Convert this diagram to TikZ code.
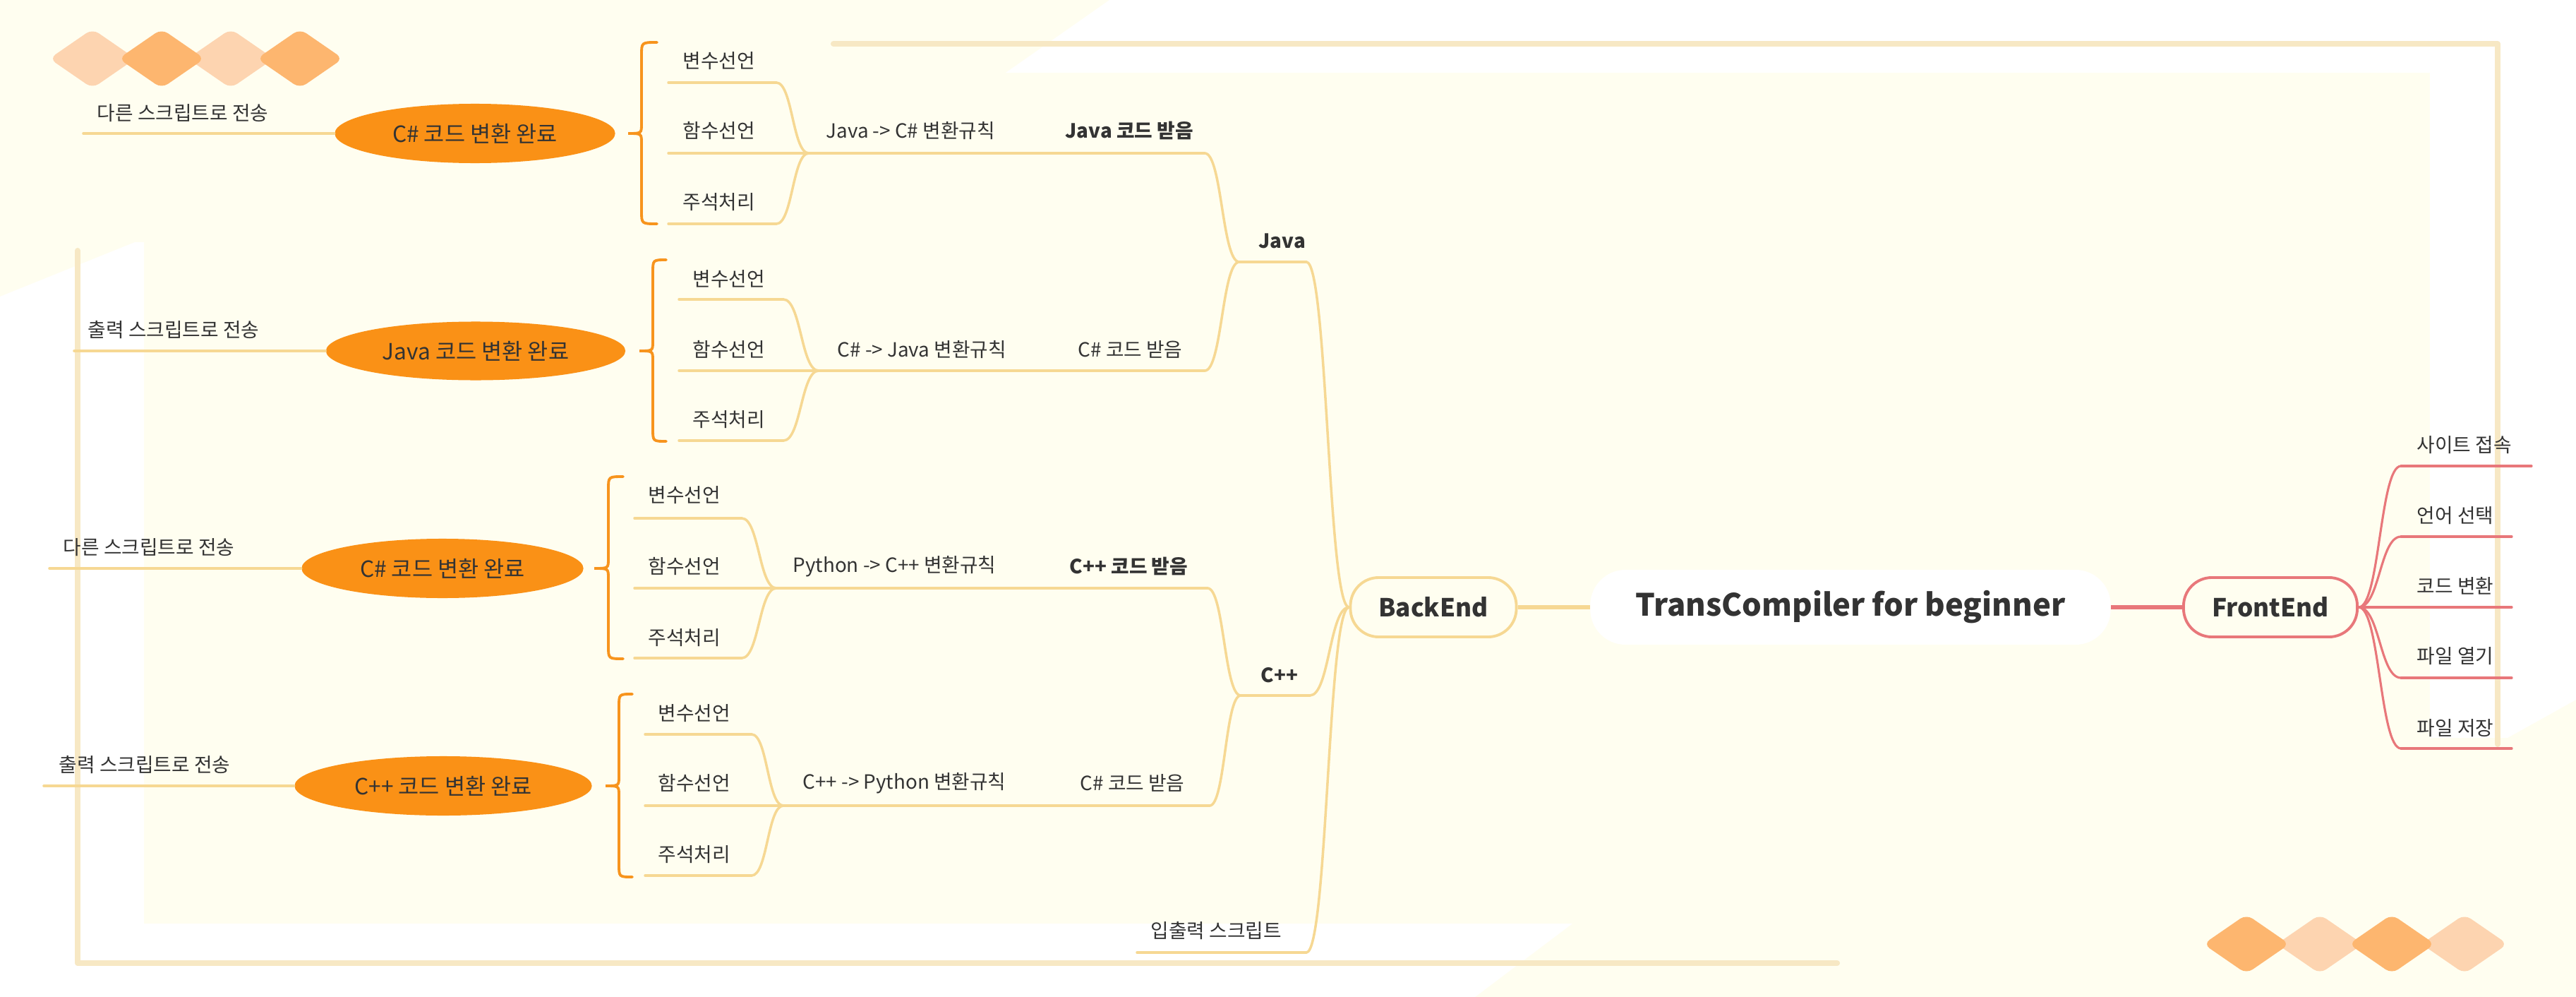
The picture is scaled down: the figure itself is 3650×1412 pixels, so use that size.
\documentclass[tikz,border=0pt]{standalone}
\usepackage{fontspec}
\setmainfont{Noto Sans CJK KR}
\usetikzlibrary{shapes.geometric,calc}
\definecolor{bgc}{HTML}{FFFEF0}
\definecolor{gold}{HTML}{F6D893}
\definecolor{framec}{HTML}{F7E8C4}
\definecolor{orng}{HTML}{FA9116}
\definecolor{bracec}{HTML}{F7941D}
\definecolor{pinkc}{HTML}{E8777A}
\definecolor{txtc}{HTML}{333333}
\definecolor{dlight}{HTML}{FDD4B0}
\definecolor{ddark}{HTML}{FDB66F}
\newcommand\sline[3]{%
  \path ($(#2)!0.5!(#3)$) coordinate (sm);
  \draw[#1] (#2) .. controls (#2 -| sm) and (#3 -| sm) .. (#3);}
\newcommand\dia[3]{\fill[#1, rounded corners=3pt] (#2-61,#3) -- (#2,#3-42) -- (#2+61,#3) -- (#2,#3+42) -- cycle;}
\tikzset{
  txt/.style={font=\fontsize{7.9}{9}\selectfont, text=txtc, inner sep=0pt, anchor=west},
  btxt/.style={txt, font=\fontsize{7.9}{9}\selectfont\bfseries},
  conn/.style={gold, line width=1pt, line cap=round},
  mainconn/.style={gold, line width=1.7pt},
  pconn/.style={pinkc, line width=0.9pt, line cap=round},
  framel/.style={framec, line width=2.3pt, line cap=round, line join=round},
  bracel/.style={bracec, line width=1.1pt, line cap=round},
  done/.style={ellipse, fill=orng, inner sep=0pt, text=txtc, font=\fontsize{9}{11}\selectfont},
  endbox/.style={draw, line width=1.1pt, rounded corners=0.4cm, fill=bgc, text=txtc, inner sep=0pt,
     minimum height=0.84cm, font=\fontsize{10}{12}\selectfont\bfseries},
  titlebox/.style={fill=white, rounded corners=0.5cm, text=txtc, inner sep=0pt, minimum width=7.37cm,
     minimum height=1.06cm, font=\fontsize{12.4}{15}\selectfont\bfseries}
}
\begin{document}
\begin{tikzpicture}[x=0.01cm,y=-0.01cm]
\useasboundingbox (0,0) rectangle (3650,1412);
% background
\fill[bgc] (0,0) rectangle (3650,1412);
\fill[white] (0,420) -- (191,343) -- (204,343) -- (204,1308) -- (2228,1308) -- (2090,1412) -- (0,1412) -- cycle;
\fill[white] (1572,0) -- (3650,0) -- (3650,991) -- (3553,1045) -- (3443,1045) -- (3443,103) -- (1425,103) -- cycle;
% frame
\draw[framel] (1181,62) -- (3539,62) -- (3539,1054);
\draw[framel] (110,355) -- (110,1364) -- (2603,1364);
% diamonds
\dia{dlight}{131}{83} \dia{dlight}{327}{83} \dia{ddark}{229}{83} \dia{ddark}{425}{83}
\dia{dlight}{3287}{1337} \dia{dlight}{3492}{1337} \dia{ddark}{3183}{1337} \dia{ddark}{3389}{1337}

% central
\node[titlebox] (title) at (2622,860) {TransCompiler for beginner};
\node[endbox, draw=gold, minimum width=2.35cm] (backend) at (2031,860) {BackEnd};
\node[endbox, draw=pinkc, minimum width=2.46cm] (frontend) at (3217,860) {FrontEnd};
\draw[mainconn] (backend.east) -- (title.west);
\draw[pinkc, line width=1.7pt] (title.east) -- (frontend.west);

% FrontEnd children
\node[txt] (f1) at (3424,630) {사이트 접속};
\node[txt] (f2) at (3424,730) {언어 선택};
\node[txt] (f3) at (3424,830) {코드 변환};
\node[txt] (f4) at (3424,929) {파일 열기};
\node[txt] (f5) at (3424,1031) {파일 저장};
\coordinate (f1a) at (3402,660); \coordinate (f1b) at (3587,660);
\coordinate (f2a) at (3402,760); \coordinate (f2b) at (3559,760);
\coordinate (f3a) at (3402,860); \coordinate (f3b) at (3559,860);
\coordinate (f4a) at (3402,960); \coordinate (f4b) at (3559,960);
\coordinate (f5a) at (3402,1060); \coordinate (f5b) at (3559,1060);
\foreach \i in {1,...,5}{
  \sline{pconn}{frontend.east}{f\i a}
  \draw[pconn] (f\i a) -- (f\i b);
}

% BackEnd branches
\node[btxt] (java) at (1783,341) {Java};
\node[btxt] (cpp) at (1786,956) {C++};
\node[txt] (io) at (1630,1318) {입출력 스크립트};
\coordinate (javaR) at (1851,371); \coordinate (javaL) at (1756,371);
\coordinate (cppR) at (1856,985); \coordinate (cppL) at (1758,985);
\coordinate (ioR) at (1851,1349); \coordinate (ioL) at (1611,1349);
\sline{conn}{backend.west}{javaR}
\sline{conn}{backend.west}{cppR}
\sline{conn}{backend.west}{ioR}
\draw[conn] (javaR) -- (javaL);
\draw[conn] (cppR) -- (cppL);
\draw[conn] (ioR) -- (ioL);

% ---------- Group 1 ----------
\node[txt] (r1) at (1170,185) {Java -> C\# 변환규칙};
\node[btxt] (c1) at (1509,185) {Java 코드 받음};
\coordinate (g1e) at (1707,217); \coordinate (g1j) at (1146,217);
\sline{conn}{g1e}{javaL}
\draw[conn] (g1e) -- (g1j);
\node[txt] (a1) at (967,86) {변수선언};
\node[txt] (b1) at (967,185) {함수선언};
\node[txt] (d1) at (967,286) {주석처리};
\coordinate (a1c) at (1100,117); \coordinate (a1s) at (947,117);
\coordinate (b1s) at (947,217);
\coordinate (d1c) at (1100,317); \coordinate (d1s) at (947,317);
\sline{conn}{g1j}{a1c} \draw[conn] (a1c) -- (a1s);
\draw[conn] (g1j) -- (b1s);
\sline{conn}{g1j}{d1c} \draw[conn] (d1c) -- (d1s);
\draw[bracel] (931,60) .. controls (909,60) .. (909,78) -- (909,175) .. controls (909,189) .. (890,189)
  .. controls (909,189) .. (909,203) -- (909,299) .. controls (909,317) .. (931,317);
\node[done, minimum width=3.97cm, minimum height=0.84cm] (e1) at (673,189) {C\# 코드 변환 완료};
\coordinate (o1) at (118,189);
\node[txt] (s1) at (137,160) {다른 스크립트로 전송};
\draw[conn] (e1.west) -- (o1);

% ---------- Group 2 ----------
\node[txt] (r2) at (1186,495) {C\# -> Java 변환규칙};
\node[txt] (c2) at (1527,495) {C\# 코드 받음};
\coordinate (g2e) at (1707,525); \coordinate (g2j) at (1160,525);
\sline{conn}{g2e}{javaL}
\draw[conn] (g2e) -- (g2j);
\node[txt] (a2) at (981,395) {변수선언};
\node[txt] (b2) at (981,495) {함수선언};
\node[txt] (d2) at (981,594) {주석처리};
\coordinate (a2c) at (1110,424); \coordinate (a2s) at (962,424);
\coordinate (b2s) at (962,525);
\coordinate (d2c) at (1110,624); \coordinate (d2s) at (962,624);
\sline{conn}{g2j}{a2c} \draw[conn] (a2c) -- (a2s);
\draw[conn] (g2j) -- (b2s);
\sline{conn}{g2j}{d2c} \draw[conn] (d2c) -- (d2s);
\draw[bracel] (944,368) .. controls (925,368) .. (925,386) -- (925,483) .. controls (925,497) .. (906,497)
  .. controls (925,497) .. (925,511) -- (925,607) .. controls (925,625) .. (944,625);
\node[done, minimum width=4.24cm, minimum height=0.83cm] (e2) at (674,497) {Java 코드 변환 완료};
\coordinate (o2) at (105,497);
\node[txt] (s2) at (124,467) {출력 스크립트로 전송};
\draw[conn] (e2.west) -- (o2);

% ---------- Group 3 ----------
\node[txt] (r3) at (1123,802) {Python -> C++ 변환규칙};
\node[btxt] (c3) at (1515,802) {C++ 코드 받음};
\coordinate (g3e) at (1711,833); \coordinate (g3j) at (1100,833);
\sline{conn}{g3e}{cppL}
\draw[conn] (g3e) -- (g3j);
\node[txt] (a3) at (918,701) {변수선언};
\node[txt] (b3) at (918,802) {함수선언};
\node[txt] (d3) at (918,903) {주석처리};
\coordinate (a3c) at (1051,734); \coordinate (a3s) at (899,734);
\coordinate (b3s) at (899,833);
\coordinate (d3c) at (1051,932); \coordinate (d3s) at (899,932);
\sline{conn}{g3j}{a3c} \draw[conn] (a3c) -- (a3s);
\draw[conn] (g3j) -- (b3s);
\sline{conn}{g3j}{d3c} \draw[conn] (d3c) -- (d3s);
\draw[bracel] (883,675) .. controls (862,675) .. (862,693) -- (862,791) .. controls (862,805) .. (842,805)
  .. controls (862,805) .. (862,819) -- (862,915) .. controls (862,933) .. (883,933);
\node[done, minimum width=3.99cm, minimum height=0.84cm] (e3) at (627,805) {C\# 코드 변환 완료};
\coordinate (o3) at (70,805);
\node[txt] (s3) at (89,775) {다른 스크립트로 전송};
\draw[conn] (e3.west) -- (o3);

% ---------- Group 4 ----------
\node[txt] (r4) at (1137,1109) {C++ -> Python 변환규칙};
\node[txt] (c4) at (1530,1109) {C\# 코드 받음};
\coordinate (g4e) at (1714,1141); \coordinate (g4j) at (1110,1141);
\sline{conn}{g4e}{cppL}
\draw[conn] (g4e) -- (g4j);
\node[txt] (a4) at (932,1010) {변수선언};
\node[txt] (b4) at (932,1109) {함수선언};
\node[txt] (d4) at (932,1210) {주석처리};
\coordinate (a4c) at (1065,1040); \coordinate (a4s) at (914,1040);
\coordinate (b4s) at (914,1141);
\coordinate (d4c) at (1065,1240); \coordinate (d4s) at (914,1240);
\sline{conn}{g4j}{a4c} \draw[conn] (a4c) -- (a4s);
\draw[conn] (g4j) -- (b4s);
\sline{conn}{g4j}{d4c} \draw[conn] (d4c) -- (d4s);
\draw[bracel] (896,983) .. controls (877,983) .. (877,1001) -- (877,1099) .. controls (877,1113) .. (858,1113)
  .. controls (877,1113) .. (877,1127) -- (877,1224) .. controls (877,1242) .. (896,1242);
\node[done, minimum width=4.21cm, minimum height=0.84cm] (e4) at (628,1113) {C++ 코드 변환 완료};
\coordinate (o4) at (62,1113);
\node[txt] (s4) at (83,1083) {출력 스크립트로 전송};
\draw[conn] (e4.west) -- (o4);
\end{tikzpicture}
\end{document}
